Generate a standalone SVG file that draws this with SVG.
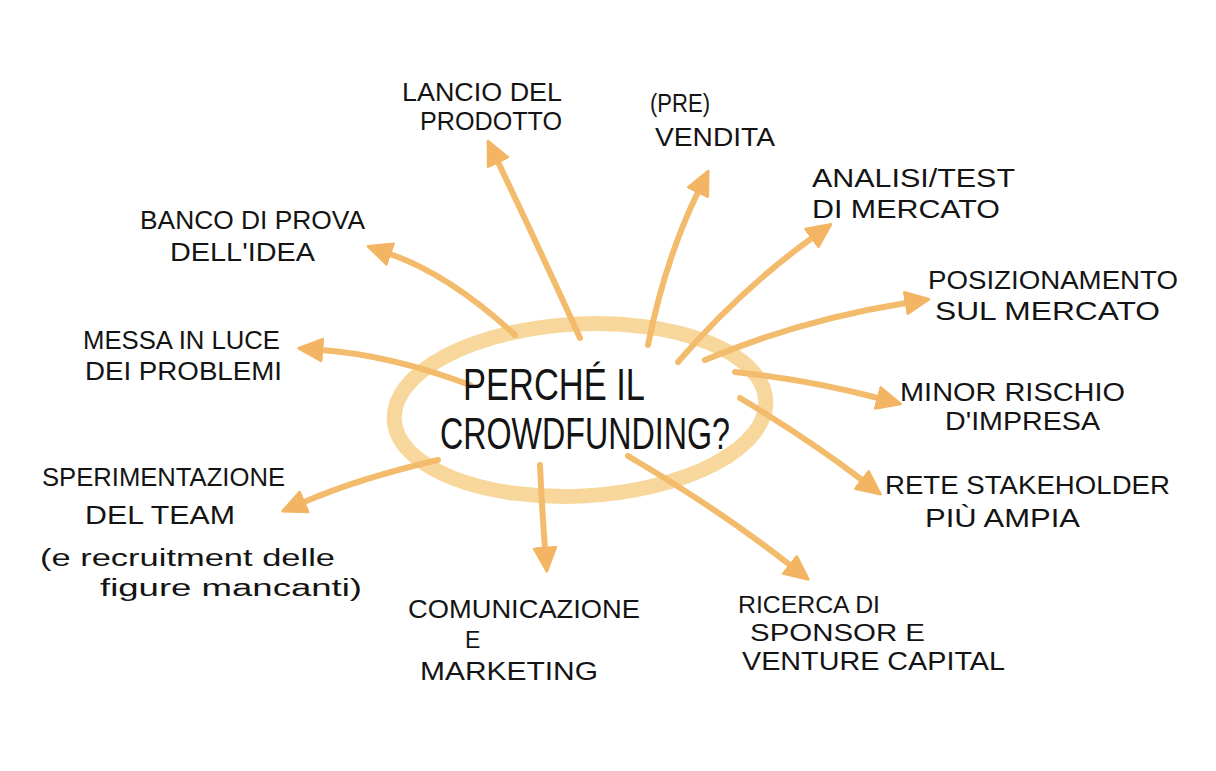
<svg xmlns="http://www.w3.org/2000/svg" width="1216" height="771" viewBox="0 0 1216 771">
<style>
.t{font-family:"Liberation Sans",Arial,sans-serif;font-size:25px;fill:#141414;}
.s{font-size:23px;}
.c{font-family:"Liberation Sans",Arial,sans-serif;font-size:44px;fill:#141414;}
.arr{fill:none;stroke:#F3BC6C;stroke-width:6;stroke-linecap:round;marker-end:url(#head);}
.ring{fill:none;stroke:#F7D79B;stroke-width:15;}
</style>
<defs>
<marker id="head" markerUnits="userSpaceOnUse" markerWidth="26" markerHeight="26" viewBox="0 0 10 10" refX="0.5" refY="5" orient="auto">
<path d="M0.5,0.8 L9.5,5 L0.5,9.2 Z" fill="#F3B564" stroke="#F3B564" stroke-width="1" stroke-linejoin="round"/>
</marker>
</defs>
<rect width="1216" height="771" fill="#ffffff"/>
<g id="center">
<ellipse class="ring" cx="580" cy="410" rx="186" ry="86" transform="rotate(-3 580 410)"/>
</g>
<g id="connectors">
<path class="arr" d="M580,338 Q540,250 498,162"/>
<path class="arr" d="M648,345 Q665,260 698,192"/>
<path class="arr" d="M678,362 Q740,290 812,238"/>
<path class="arr" d="M705,360 Q800,320 906,303"/>
<path class="arr" d="M735,372 Q810,380 878,398"/>
<path class="arr" d="M740,398 Q810,440 862,480"/>
<path class="arr" d="M628,456 Q720,510 790,565"/>
<path class="arr" d="M540,465 Q542,510 545,548"/>
<path class="arr" d="M438,460 Q360,478 304,502"/>
<path class="arr" d="M470,385 Q390,355 322,350"/>
<path class="arr" d="M515,335 Q450,275 390,254"/>
</g>
<g id="center-label">
<text class="c" x="463" y="400" textLength="182" lengthAdjust="spacingAndGlyphs">PERCHÉ IL</text>
<text class="c" x="440" y="449" textLength="290" lengthAdjust="spacingAndGlyphs">CROWDFUNDING?</text>
</g>
<g id="lancio">
<text class="t" x="402" y="101" textLength="160" lengthAdjust="spacingAndGlyphs">LANCIO DEL</text>
<text class="t" x="420" y="130" textLength="142" lengthAdjust="spacingAndGlyphs">PRODOTTO</text>
</g>
<g id="prevendita">
<text class="t" x="650" y="112" textLength="60" lengthAdjust="spacingAndGlyphs">(PRE)</text>
<text class="t" x="655" y="146" textLength="120" lengthAdjust="spacingAndGlyphs">VENDITA</text>
</g>
<g id="analisi">
<text class="t" x="812" y="187" textLength="203" lengthAdjust="spacingAndGlyphs">ANALISI/TEST</text>
<text class="t" x="812" y="218" textLength="188" lengthAdjust="spacingAndGlyphs">DI MERCATO</text>
</g>
<g id="banco">
<text class="t" x="140" y="229" textLength="225" lengthAdjust="spacingAndGlyphs">BANCO DI PROVA</text>
<text class="t" x="170" y="261" textLength="145" lengthAdjust="spacingAndGlyphs">DELL'IDEA</text>
</g>
<g id="posizionamento">
<text class="t" x="928" y="289" textLength="250" lengthAdjust="spacingAndGlyphs">POSIZIONAMENTO</text>
<text class="t" x="935" y="320" textLength="225" lengthAdjust="spacingAndGlyphs">SUL MERCATO</text>
</g>
<g id="messa">
<text class="t" x="83" y="349" textLength="197" lengthAdjust="spacingAndGlyphs">MESSA IN LUCE</text>
<text class="t" x="85" y="380" textLength="197" lengthAdjust="spacingAndGlyphs">DEI PROBLEMI</text>
</g>
<g id="minor">
<text class="t" x="900" y="401" textLength="225" lengthAdjust="spacingAndGlyphs">MINOR RISCHIO</text>
<text class="t" x="945" y="430" textLength="155" lengthAdjust="spacingAndGlyphs">D'IMPRESA</text>
</g>
<g id="rete">
<text class="t" x="885" y="494" textLength="285" lengthAdjust="spacingAndGlyphs">RETE STAKEHOLDER</text>
<text class="t" x="925" y="527" textLength="155" lengthAdjust="spacingAndGlyphs">PIÙ AMPIA</text>
</g>
<g id="sperimentazione">
<text class="t" x="42" y="486" textLength="243" lengthAdjust="spacingAndGlyphs">SPERIMENTAZIONE</text>
<text class="t" x="85" y="524" textLength="150" lengthAdjust="spacingAndGlyphs">DEL TEAM</text>
<text class="t s" x="40" y="566" textLength="295" lengthAdjust="spacingAndGlyphs">(e recruitment delle</text>
<text class="t s" x="100" y="596" textLength="262" lengthAdjust="spacingAndGlyphs">figure mancanti)</text>
</g>
<g id="comunicazione">
<text class="t" x="408" y="618" textLength="232" lengthAdjust="spacingAndGlyphs">COMUNICAZIONE</text>
<text class="t s" x="465" y="648">E</text>
<text class="t" x="420" y="680" textLength="178" lengthAdjust="spacingAndGlyphs">MARKETING</text>
</g>
<g id="ricerca">
<text class="t s" x="738" y="613" textLength="142" lengthAdjust="spacingAndGlyphs">RICERCA DI</text>
<text class="t s" x="750" y="641" textLength="175" lengthAdjust="spacingAndGlyphs">SPONSOR E</text>
<text class="t" x="742" y="670" textLength="263" lengthAdjust="spacingAndGlyphs">VENTURE CAPITAL</text>
</g>
</svg>
